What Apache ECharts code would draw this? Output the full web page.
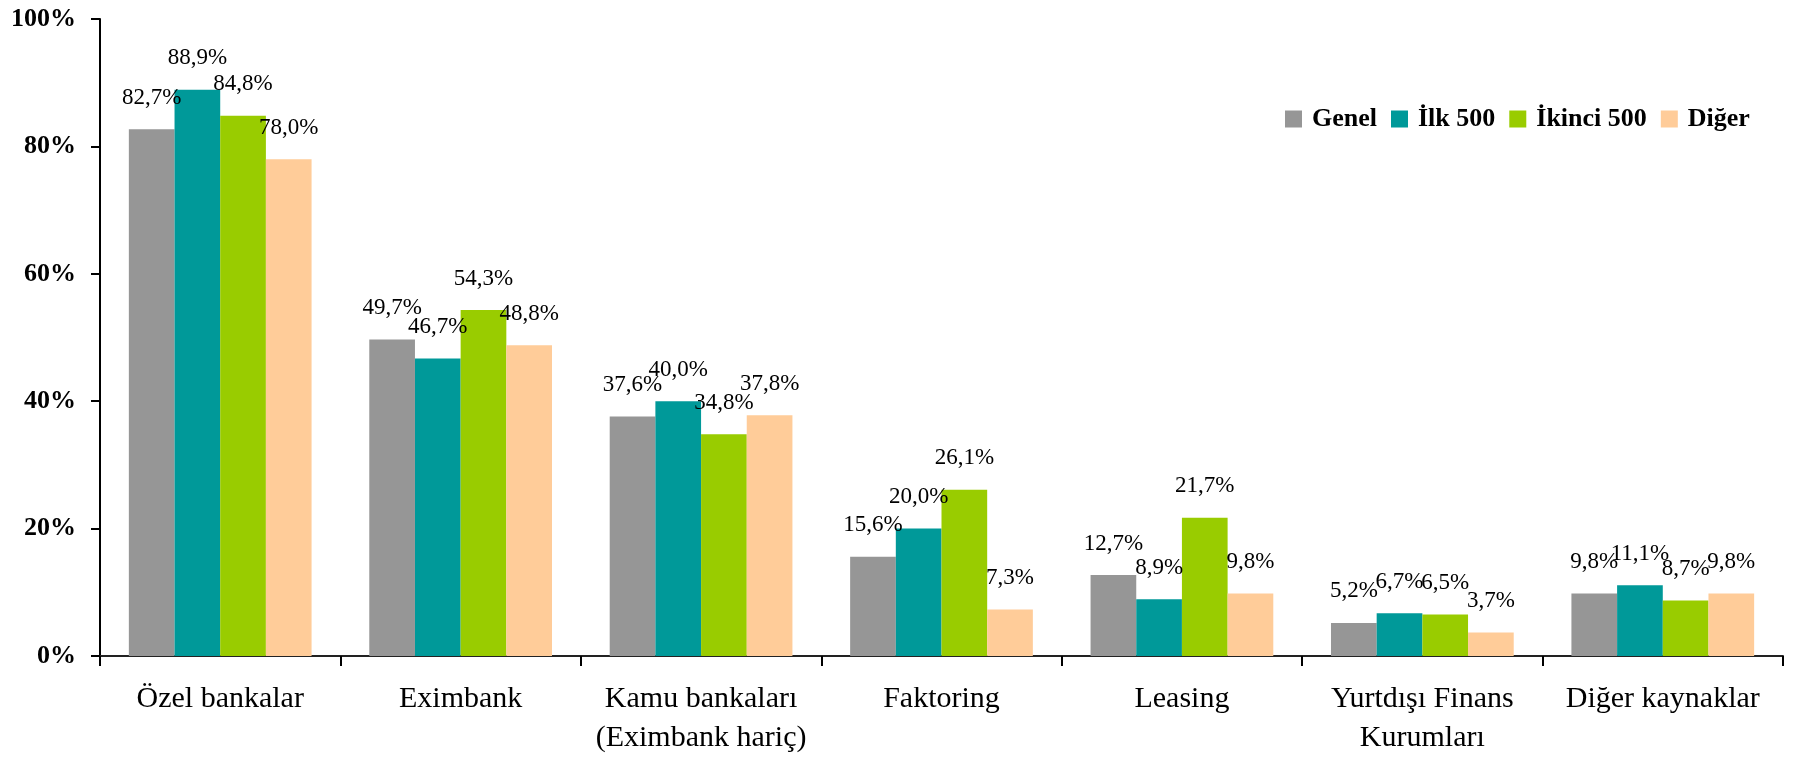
<!DOCTYPE html>
<html lang="tr">

<head>
    <meta charset="UTF-8">
    <title>Finansman kaynakları</title>
    <script src="https://cdn.jsdelivr.net/npm/echarts@6.0.0/dist/echarts.min.js"></script>
    <style>
        body { margin: 0; background: #fff; }
    </style>
</head>

<body>
    <div id="main" style="width: 1798px;height:758px;"></div>
    <script type="text/javascript">
        // chart data
        const categories = ['Özel bankalar', 'Eximbank', 'Kamu bankaları\n(Eximbank hariç)', 'Faktoring',
            'Leasing', 'Yurtdışı Finans\nKurumları', 'Diğer kaynaklar'];
        const seriesNames = ['Genel', 'İlk 500', 'İkinci 500', 'Diğer'];
        const genel = [82.7, 49.7, 37.6, 15.6, 12.7, 5.2, 9.8];
        const ilk500 = [88.9, 46.7, 40.0, 20.0, 8.9, 6.7, 11.1];
        const ikinci500 = [84.8, 54.3, 34.8, 26.1, 21.7, 6.5, 8.7];
        const diger = [78.0, 48.8, 37.8, 7.3, 9.8, 3.7, 9.8];
        const yTicks = [0, 20, 40, 60, 80, 100];

        const colors = ['#969696', '#009999', '#99cc00', '#ffcc99'];
        const font = '"Liberation Serif", "DejaVu Serif", serif';

        function makeSeries(name, data) {
            return {
                name: name,
                type: 'bar',
                data: data,
                barGap: '0%',
                barCategoryGap: '24%',
                label: {
                    show: true,
                    position: 'top',
                    distance: 20,
                    fontFamily: font,
                    fontSize: 23,
                    color: '#000',
                    formatter: (p) => p.value.toFixed(1).replace('.', ',') + '%'
                }
            };
        }

        let options = {
            animation: false,
            color: colors,
            grid: { left: 100, right: 15, top: 19, bottom: 100 },
            legend: {
                data: seriesNames,
                left: 1280,
                top: 101,
                itemWidth: 17,
                itemHeight: 17,
                itemGap: 14,
                icon: 'rect',
                textStyle: {
                    fontFamily: font,
                    fontSize: 26,
                    fontWeight: 'bold',
                    color: '#000',
                    padding: [0, 0, 0, 5]
                }
            },
            xAxis: {
                type: 'category',
                data: categories,
                axisLine: { lineStyle: { color: '#222', width: 2 } },
                axisTick: { show: true, interval: 0, length: 10, lineStyle: { color: '#000', width: 2 } },
                axisLabel: {
                    interval: 0,
                    margin: 24,
                    fontFamily: font,
                    fontSize: 30,
                    lineHeight: 39,
                    color: '#000'
                }
            },
            yAxis: {
                type: 'value',
                min: yTicks[0],
                max: yTicks[yTicks.length - 1],
                interval: 20,
                splitLine: { show: false },
                axisLine: { show: true, lineStyle: { color: '#000', width: 2 } },
                axisTick: { show: true, length: 9, lineStyle: { color: '#000', width: 2 } },
                axisLabel: {
                    margin: 24,
                    fontFamily: font,
                    fontSize: 26,
                    fontWeight: 'bold',
                    color: '#000',
                    formatter: '{value}%'
                }
            },
            series: [
                makeSeries(seriesNames[0], genel),
                makeSeries(seriesNames[1], ilk500),
                makeSeries(seriesNames[2], ikinci500),
                makeSeries(seriesNames[3], diger)
            ]
        };

        let myChart = echarts.init(document.getElementById('main'));
        myChart.setOption(options);
    </script>
</body>

</html>
